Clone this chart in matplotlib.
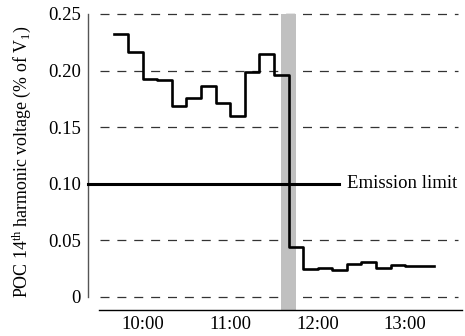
import matplotlib
matplotlib.use('Agg')
import matplotlib.pyplot as plt
import numpy as np

plt.rcParams['font.family'] = ['Liberation Serif', 'DejaVu Serif']
plt.rcParams['mathtext.fontset'] = 'custom'
plt.rcParams['mathtext.rm'] = 'Liberation Serif'
plt.rcParams['mathtext.it'] = 'Liberation Serif:italic'

# 10-minute bins, start times in hours (9:40 ... 13:10), last bin ends 13:20
bin_start = [9 + 40/60 + i * 10/60 for i in range(22)]
bin_end = 13 + 20/60
harmonic = [0.232, 0.216, 0.193, 0.192, 0.169, 0.176, 0.186, 0.171, 0.160, 0.199, 0.215,
            0.196, 0.044, 0.025, 0.026, 0.024, 0.029, 0.031, 0.026, 0.028, 0.0278, 0.027]
emission_limit = 0.10
band = (11 + 35/60, 11 + 45/60)
grid_levels = [0, 0.05, 0.15, 0.20, 0.25]
xticks = [10, 11, 12, 13]
xtick_labels = ['10:00', '11:00', '12:00', '13:00']
yticks = [0, 0.05, 0.10, 0.15, 0.20, 0.25]
ytick_labels = ['0', '0.05', '0.10', '0.15', '0.20', '0.25']

fig = plt.figure(figsize=(4.65, 3.36), dpi=100)
ax = fig.add_axes([0.2129, 0.0774, 0.7806, 0.881])

ax.set_xlim(9.5, 13.65)
ax.set_ylim(-0.0115, 0.25)

# shaded period
ax.axvspan(band[0], band[1], color='#c0c0c0', lw=0, zorder=1)

# dashed reference lines
for g in grid_levels:
    ax.axhline(g, xmin=0.003, xmax=0.99, color='#333333', lw=0.9,
               dashes=(7.2, 6.3), zorder=0, clip_on=False)

# emission limit
ax.axhline(emission_limit, xmin=-0.03, xmax=0.661, color='black', lw=2.2,
           zorder=3, clip_on=False)
ax.text(0.683, emission_limit, 'Emission limit', transform=ax.get_yaxis_transform(),
        fontsize=13.5, va='center', ha='left')

# measured harmonic voltage
xs = bin_start + [bin_end]
ys = harmonic + [harmonic[-1]]
ax.step(xs, ys, where='post', color='black', lw=1.9, zorder=4)

# axes styling
for s in ['top', 'right']:
    ax.spines[s].set_visible(False)
ax.spines['left'].set_position(('outward', 8))
ax.spines['left'].set_bounds(0, 0.25)
ax.spines['left'].set_color('#555555')
ax.spines['left'].set_linewidth(1.0)
ax.spines['bottom'].set_color('black')
ax.spines['bottom'].set_linewidth(1.0)

ax.set_xticks(xticks)
ax.set_xticklabels(xtick_labels)
ax.set_yticks(yticks)
ax.set_yticklabels(ytick_labels)
ax.tick_params(axis='both', length=0, labelsize=13.5)
ax.tick_params(axis='y', pad=5)
ax.tick_params(axis='x', pad=4)

ax.set_ylabel(r'POC 14$^{\mathrm{th}}$ harmonic voltage (% of V$_{\mathrm{1}}$)', fontsize=12.9)
ax.yaxis.set_label_coords(-0.182, 0.5)

fig.savefig('out.png', dpi=100)
